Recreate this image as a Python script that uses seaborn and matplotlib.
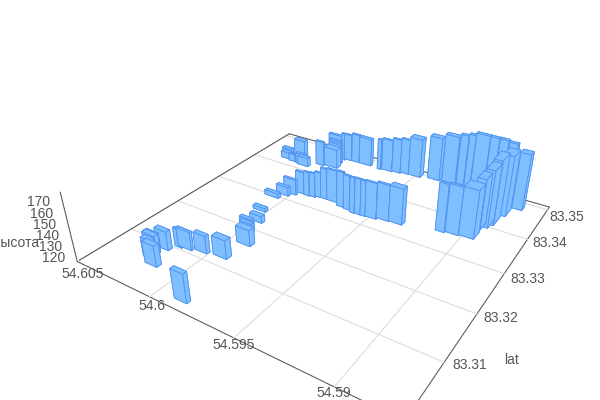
import numpy as np
import pandas as pd
import matplotlib
matplotlib.use("Agg")
import matplotlib.pyplot as plt
from matplotlib.transforms import Affine2D
from mpl_toolkits.mplot3d import proj3d
import seaborn as sns

# building footprints: front corner, footprint size, roof height
lat = [3330,3329,3331,3335,3336,3336,3329,3327,3323,3324,3324,3326,3331,3333,
       3476,3479,3482,3486,3487,
       3433,3437,3472,3463,3458,3477,3478,3478,3473,
       3428,3421,3435,3418,3414,3416,
       3494,3498,3503,3503,3505,3496,3488,3475,3475,3443,3408,3396,3385,
       3349,3353,3356,
       3295,3310,3320,
       3249,3251,3220,3204,3197,3190,3161,3118,3113,3107,3104,3089,3051,3061,3072,3078,3016]
lon = [1940,1901,1865,1836,1797,1729,1670,1627,1587,1550,1519,1455,1387,1311,
       1715,1643,1589,1540,1464,
       2041,1951,1990,1977,1965,1927,1874,1789,1968,
       2279,2263,2187,2222,2116,2146,
       1349,1252,1205,1164,1083,1021,960,895,818,874,896,913,940,
       1089,1015,936,
       2036,2003,1973,
       2006,2037,1952,1977,1956,1936,1866,1894,2008,2091,2148,2190,2136,2195,2212,2233,1821]
dlat = [4,3,3,3,3,3,3,3,3,3,3,3,4,11,
        4,4,4,4,13,
        4,13,5,5,5,4,4,7,3,
        8,8,9,3,8,6,
        11,9,6,6,6,6,6,6,13,27,31,28,24,
        4,4,23,
        7,6,4,
        7,7,8,6,6,6,11,11,7,4,3,8,9,8,8,8,7]
dlon = [57,37,39,39,41,67,44,39,30,38,32,69,76,80,
        24,70,58,57,78,
        55,93,96,87,87,55,54,84,25,
        66,74,78,47,76,64,
        76,86,47,38,82,50,49,48,57,57,47,47,47,
        51,75,82,
        95,83,83,
        82,59,80,80,79,78,87,86,78,91,46,81,79,69,82,82,77]
height = [140,142,142,143,148,149,152,151,152,152,152,152,152,152,
          149,150,152,153,156,
          143,138,143,140,138,145,147,146,146,
          128,126,138,127,128,130,
          160,164,166,168,170,172,174,176,170,173,176,170,164,
          162,162,162,
          124,128,134,
          123,122,126,126,126,128,134,136,135,136,136,136,138,136,136,134,144]

lat_ticks = [83.31, 83.32, 83.33, 83.34, 83.35]
lon_ticks = [54.59, 54.595, 54.6, 54.605]
z_ticks = [120, 130, 140, 150, 160, 170]

LAT_LIM = (83.30, 83.351)
LON_LIM = (54.587, 54.605)
Z_LIM = (120, 177)
GREY = "#555555"
GRID = "#dddddd"

sns.set_theme(style="white")
plt.rcParams['font.family'] = ['Liberation Sans', 'DejaVu Sans']

df = pd.DataFrame({"lat": 83 + np.array(lat) / 1e4, "lon": 54.58 + np.array(lon) / 1e5,
                   "dlat": np.array(dlat) / 1e4, "dlon": np.array(dlon) / 1e5, "height": height})
# painter's order, far bars first
df["depth"] = 0.84 * (df.lat - LAT_LIM[0]) / 0.051 + 0.545 * (df.lon - LON_LIM[0]) / 0.018
df = df.sort_values("depth", ascending=False)

fig = plt.figure(figsize=(6, 4), dpi=100)
ax = fig.add_axes([0.1, 0.1, 0.5, 0.75], projection="3d")
ax.computed_zorder = False
ax.set_xlim(*LAT_LIM)
ax.set_ylim(*LON_LIM)
ax.set_zlim(*Z_LIM)
ax.view_init(elev=30.6453, azim=-147.1375)
ax.set_proj_type("persp", focal_length=0.2453)
ax.set_box_aspect((1.5527, 1.5713, 0.3441))

# scale and move the axes box so the data lands where it does in the reference
S, CX, CY = 2628.5, 328.8, 200.3
ax.set_position([100 / 600, 50 / 400, 300 / 600, 300 / 400])
ax.apply_aspect()
o, e = ax.transData.transform([[0, 0], [1, 1]])
side = 300 * S / (e[0] - o[0])
left = CX - (o[0] - 100) / 300 * side
bottom = 400 - CY - (o[1] - 50) / 300 * side
ax.set_position([left / 600, bottom / 400, side / 600, side / 400])
ax.apply_aspect()

for i, row in enumerate(df.itertuples()):
    ax.bar3d(row.lat, row.lon, Z_LIM[0], row.dlat, row.dlon, row.height - Z_LIM[0],
             color="#80bfff", edgecolor="#4f94f0", linewidth=0.6, shade=False, zorder=3 + i * 0.01)

for axis in (ax.xaxis, ax.yaxis, ax.zaxis):
    axis.pane.set_visible(False)
    axis.line.set_color(GREY)
    axis.line.set_linewidth(0.75)
    axis._axinfo["tick"]["inward_factor"] = 0
    axis._axinfo["tick"]["outward_factor"] = 0
ax.grid(False)
ax.set_xticks(lat_ticks)
ax.set_yticks(lon_ticks)
ax.set_zticks(z_ticks)
ax.set_xticklabels([])
ax.set_yticklabels([])
ax.set_zticklabels([])

for v in lat_ticks:
    ax.plot([v, v], LON_LIM, [120, 120], color=GRID, lw=0.8, zorder=1)
for v in lon_ticks:
    ax.plot(LAT_LIM, [v, v], [120, 120], color=GRID, lw=0.8, zorder=1)
ax.plot([LAT_LIM[1], LAT_LIM[1]], LON_LIM, [120, 120], color=GREY, lw=0.75, zorder=2)
ax.plot(LAT_LIM, [LON_LIM[1], LON_LIM[1]], [120, 120], color=GREY, lw=0.75, zorder=2)


def label(x, y, z, text, dx, dy):
    # flat text next to the projected point, offset in pixels
    px, py, _ = proj3d.proj_transform(x, y, z, ax.get_proj())
    ax.text2D(px, py, text, color=GREY, fontsize=10, ha="center", va="center", zorder=10,
              transform=ax.transData + Affine2D().translate(dx, -dy))


for v, d in zip(lat_ticks, [(26, 3), (24, 4), (23, 5), (22, 4), (19, 7)]):
    label(v, LON_LIM[0], 120, str(v), *d)
for v, d in zip(lon_ticks, [(-1, 6), (0, 7), (3, 9), (5, 12)]):
    label(LAT_LIM[0], v, 120, str(v), *d)
for v, d in zip(z_ticks, [(-24, -4), (-24, -3), (-24, -2), (-24, -1), (-24, 0), (-24, 1)]):
    label(LAT_LIM[0], LON_LIM[1], v, str(v), *d)
label(LAT_LIM[0], LON_LIM[1], 145, "высота", -54, 11)
label(83.31, LON_LIM[0], 120, "lat", 67, -2)

fig.savefig("out.png", dpi=100)
